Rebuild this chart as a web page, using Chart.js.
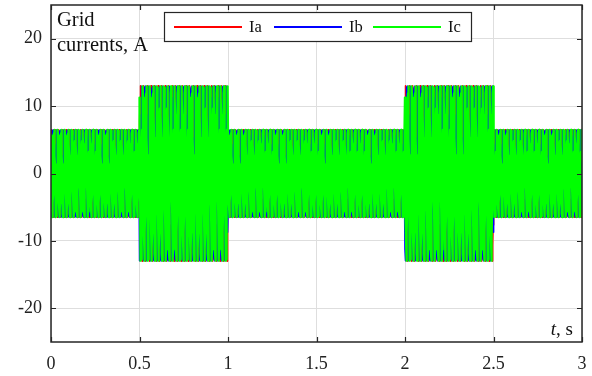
<!DOCTYPE html>
<html>
<head>
<meta charset="utf-8">
<script src="https://cdn.jsdelivr.net/npm/chart.js@4/dist/chart.umd.min.js"></script>
<style>
  html, body { margin: 0; padding: 0; background: #fff; }
  #wrap { width: 592px; height: 376px; }
</style>
</head>
<body>
<div id="wrap"><canvas id="c" width="592" height="376"></canvas></div>
<script>
// ---- values ----
const segmentBounds = [0, 0.5, 1, 2, 2.5, 3];      // s, where the current amplitude steps
const segmentAmplitudes = [6.5, 13, 6.5, 13, 6.5]; // A, peak of each phase current
const gridFrequencyHz = 50;                          // mains frequency (assumed)
const phaseShiftsDeg = [0, -120, 120];               // Ia, Ib, Ic
const seriesNames = ['Ia', 'Ib', 'Ic'];
const seriesColors = ['#ff0000', '#0000ff', '#00ff00'];
const xTickValues = [0, 0.5, 1, 1.5, 2, 2.5, 3];
const yTickValues = [-20, -10, 0, 10, 20];

// ---- build the three-phase waveforms from the read envelope ----
const sampleStep = 1 / (gridFrequencyHz * 20);
function amplitudeAt(t) {
  for (let i = 0; i < segmentAmplitudes.length; i++) {
    if (t >= segmentBounds[i] && t < segmentBounds[i + 1]) return segmentAmplitudes[i];
  }
  return segmentAmplitudes[segmentAmplitudes.length - 1];
}
function phaseSeries(shiftDeg) {
  const pts = [];
  const n = Math.round((segmentBounds[segmentBounds.length - 1] - segmentBounds[0]) / sampleStep);
  for (let k = 0; k <= n; k++) {
    const t = segmentBounds[0] + k * sampleStep;
    pts.push({ x: t, y: amplitudeAt(t) * Math.sin(2 * Math.PI * gridFrequencyHz * t + shiftDeg * Math.PI / 180) });
  }
  return pts;
}

const FONT = "'Liberation Serif', 'Times New Roman', serif";
const AXIS = '#262626';

const decorPlugin = {
  id: 'decor',
  afterDatasetsDraw(chart) {
    const ctx = chart.ctx, a = chart.chartArea;
    const xs = chart.scales.x, ys = chart.scales.y;
    ctx.save();
    // frame
    ctx.strokeStyle = AXIS; ctx.lineWidth = 1.5;
    ctx.strokeRect(a.left, a.top, a.right - a.left, a.bottom - a.top);
    // inward tick marks
    ctx.lineWidth = 1.2;
    const tl = 5;
    ctx.beginPath();
    xTickValues.forEach(v => {
      const px = Math.round(xs.getPixelForValue(v)) + 0.5;
      ctx.moveTo(px, a.bottom); ctx.lineTo(px, a.bottom - tl);
      ctx.moveTo(px, a.top); ctx.lineTo(px, a.top + tl);
    });
    yTickValues.forEach(v => {
      const py = Math.round(ys.getPixelForValue(v)) + 0.5;
      ctx.moveTo(a.left, py); ctx.lineTo(a.left + tl, py);
      ctx.moveTo(a.right, py); ctx.lineTo(a.right - tl, py);
    });
    ctx.stroke();
    // axis caption texts
    ctx.fillStyle = '#111';
    ctx.font = '20.5px ' + FONT;
    ctx.textBaseline = 'alphabetic';
    ctx.textAlign = 'left';
    ctx.fillText('Grid', a.left + 6, 26);
    ctx.fillText('currents, A', a.left + 6, 51);
    // t, s
    ctx.font = '19px ' + FONT;
    ctx.textAlign = 'right';
    const rest = ', s';
    const restW = ctx.measureText(rest).width;
    ctx.fillText(rest, a.right - 9, a.bottom - 7);
    ctx.font = 'italic 19px ' + FONT;
    ctx.fillText('t', a.right - 9 - restW, a.bottom - 7);
    // legend
    const lx = 164, ly = 12, lw = 307, lh = 29;
    ctx.fillStyle = '#fff';
    ctx.fillRect(lx, ly, lw, lh);
    ctx.strokeStyle = AXIS; ctx.lineWidth = 1.2;
    ctx.strokeRect(lx + 0.5, ly + 0.5, lw, lh);
    ctx.font = '16.5px ' + FONT;
    ctx.textAlign = 'left';
    ctx.textBaseline = 'middle';
    const entryStarts = [174, 274, 373];
    chart.data.datasets.forEach((ds, i) => {
      const x0 = entryStarts[i], yy = ly + lh / 2 + 0.5;
      ctx.strokeStyle = ds.borderColor; ctx.lineWidth = 2.2;
      ctx.beginPath(); ctx.moveTo(x0, yy); ctx.lineTo(x0 + 68, yy); ctx.stroke();
      ctx.fillStyle = '#111';
      ctx.fillText(ds.label, x0 + 75, yy + 1);
    });
    ctx.restore();
  }
};

new Chart(document.getElementById('c'), {
  type: 'line',
  data: {
    datasets: seriesNames.map((name, i) => ({
      label: name,
      data: phaseSeries(phaseShiftsDeg[i]),
      borderColor: seriesColors[i],
      backgroundColor: seriesColors[i],
      borderWidth: i === 2 ? 2.4 : 1.6,
      borderJoinStyle: 'round',
      borderCapStyle: 'butt',
      pointRadius: 0,
      tension: 0,
      fill: false,
      order: 3 - i
    }))
  },
  options: {
    responsive: false,
    animation: false,
    events: [],
    parsing: false,
    normalized: true,
    layout: { padding: { left: 0, right: 10, top: 5, bottom: 0 } },
    plugins: { legend: { display: false }, tooltip: { enabled: false } },
    scales: {
      x: {
        type: 'linear', min: 0, max: 3,
        afterBuildTicks: s => { s.ticks = xTickValues.map(v => ({ value: v })); },
        afterFit: s => { s.height = 34; s.paddingLeft = 0; s.paddingRight = 0; },
        grid: { color: '#dedede', lineWidth: 1, drawTicks: false },
        border: { display: false },
        ticks: { color: '#222', font: { family: FONT, size: 18 }, padding: 11, maxRotation: 0,
                 callback: v => String(v) }
      },
      y: {
        type: 'linear', min: -25, max: 25,
        afterBuildTicks: s => { s.ticks = yTickValues.map(v => ({ value: v })); },
        afterFit: s => { s.width = 51; s.paddingTop = 0; s.paddingBottom = 0; },
        grid: { color: '#dedede', lineWidth: 1, drawTicks: false },
        border: { display: false },
        ticks: { color: '#222', font: { family: FONT, size: 18 }, padding: 9,
                 callback: v => String(v) }
      }
    }
  },
  plugins: [decorPlugin]
});
</script>
</body>
</html>
